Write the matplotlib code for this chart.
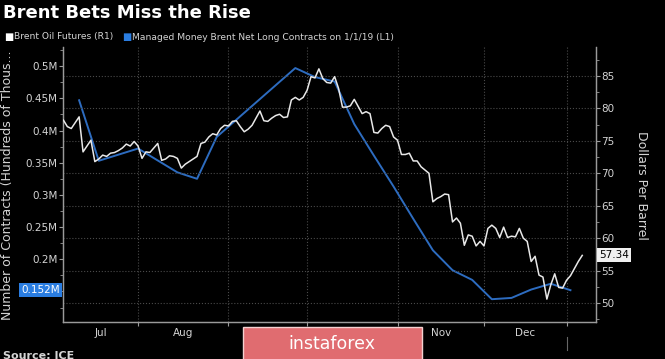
import numpy as np
import pandas as pd
import matplotlib
matplotlib.use('Agg')
import matplotlib.pyplot as plt
import matplotlib.transforms as mtransforms
from matplotlib.patches import Rectangle
from matplotlib.ticker import FuncFormatter, MultipleLocator

# Brent Oil Futures (R1), one value per business day starting 2018-07-05, USD/bbl
brent_start = '2018-07-05'
brent_px = [78.2, 77.2, 76.9, 77.8, 78.7, 73.3, 74.2, 75.1, 71.8, 72.2,
            72.8, 72.6, 73.1, 73.2, 73.5, 73.9, 74.5, 74.2, 74.9, 74.2,
            72.3, 73.3, 73.2, 73.9, 74.6, 72.0, 72.2, 72.7, 72.6, 72.3,
            70.8, 71.4, 71.8, 72.2, 72.6, 74.6, 74.8, 75.6, 76.1, 75.9,
            76.9, 77.4, 77.3, 78.0, 78.1, 77.2, 76.4, 76.8, 77.4, 78.5,
            79.6, 78.1, 78.0, 78.5, 78.9, 79.1, 78.6, 78.7, 81.3, 81.7,
            81.3, 81.7, 82.8, 84.9, 84.7, 86.1, 84.6, 84.0, 83.9, 84.9,
            83.1, 80.2, 80.2, 80.4, 81.4, 80.3, 79.2, 79.5, 79.2, 76.3,
            76.2, 76.9, 77.4, 77.2, 75.6, 75.1, 72.9, 72.9, 73.1, 71.9,
            71.9, 71.0, 70.5, 70.0, 65.6, 66.1, 66.4, 66.8, 66.7, 62.5,
            63.1, 62.3, 58.9, 60.5, 60.3, 58.8, 59.5, 58.8, 61.5, 62.0,
            61.5, 60.1, 61.7, 60.1, 60.3, 60.2, 61.5, 60.0, 59.5, 56.4,
            57.2, 54.3, 54.0, 50.6, 52.8, 54.5, 52.4, 52.3, 53.5, 54.2,
            55.3, 56.4, 57.34]

# Managed Money Brent Net Long Contracts (L1), millions of contracts
mm_dates = ['2018-07-11', '2018-07-18', '2018-08-01', '2018-08-15', '2018-08-22',
            '2018-08-29', '2018-09-26', '2018-10-03', '2018-10-10', '2018-10-17',
            '2018-10-24', '2018-10-31', '2018-11-07', '2018-11-14', '2018-11-21',
            '2018-11-28', '2018-12-05', '2018-12-12', '2018-12-19', '2018-12-26',
            '2019-01-02']
mm_net_long = [0.447, 0.353, 0.372, 0.335, 0.325,
               0.390, 0.497, 0.483, 0.476, 0.410,
               0.361, 0.313, 0.263, 0.214, 0.183,
               0.168, 0.138, 0.140, 0.153, 0.162,
               0.152]

month_names = ['Jul', 'Aug', 'Sep', 'Oct', 'Nov', 'Dec']
left_ticks = [0.2, 0.25, 0.3, 0.35, 0.4, 0.45, 0.5]
right_ticks = [50, 55, 60, 65, 70, 75, 80, 85]

# business-day axis
days = pd.bdate_range(brent_start, '2019-01-11')
pos = np.arange(len(days))
brent_x = pos[:len(brent_px)]
mm_x = days.get_indexer(pd.to_datetime(mm_dates))
month_starts = pd.date_range('2018-08-01', '2019-01-01', freq='MS')
month_edges = [int(days.searchsorted(m)) for m in month_starts]
bounds = [0] + month_edges
month_mid = [(bounds[i] + bounds[i + 1]) / 2 for i in range(len(month_names))]

W, H = 665, 359
fig = plt.figure(figsize=(W / 100, H / 100), dpi=100, facecolor='black')
ax = fig.add_axes([63 / W, 37 / H, 533 / W, 275 / H])
ax2 = ax.twinx()

grey = '#9a9a9a'
txt = '#d4d4d4'
blue = '#2d6cc0'

ax.set_facecolor('black')
ax.plot(mm_x, mm_net_long, color=blue, lw=1.4, zorder=3)
ax2.plot(brent_x, brent_px, color='#e8e8e8', lw=1.1, zorder=4)

ax.set_xlim(-0.1, 135.5)
ax.set_ylim(0.1026, 0.5297)
ax2.set_ylim(47.07, 89.47)

# x axis: gridlines at month starts, labels in the middle of months
ax.set_xticks(month_edges)
ax.set_xticklabels([])
ax.set_xticks(month_mid, minor=True)
ax.set_xticklabels(month_names, minor=True)
ax.tick_params(axis='x', which='major', length=3, color=grey, direction='out')
ax.tick_params(axis='x', which='minor', length=0, labelsize=7.5, labelcolor=txt, pad=4)
ax.grid(axis='x', which='major', ls=':', color='#4a4a4a', lw=0.8)

# year separator under the axis
trans = mtransforms.blended_transform_factory(ax.transData, ax.transAxes)
ax.plot([month_edges[-1]] * 2, [-0.055, -0.1], transform=trans, color='#666666',
        lw=0.8, clip_on=False)

# left axis
ax.set_yticks(left_ticks)
ax.yaxis.set_major_formatter(FuncFormatter(lambda v, p: f'{v:g}M'))
ax.yaxis.set_minor_locator(MultipleLocator(0.025))
ax.tick_params(axis='y', which='major', length=3, color=grey, labelsize=7.5, labelcolor=txt, pad=1)
ax.tick_params(axis='y', which='minor', length=2, color=grey)

# right axis
ax2.set_yticks(right_ticks)
ax2.yaxis.set_minor_locator(MultipleLocator(2.5))
ax2.tick_params(axis='y', which='major', length=3, color=grey, labelsize=7.5, labelcolor=txt, pad=1)
ax2.tick_params(axis='y', which='minor', length=2, color=grey)
ax2.grid(axis='y', which='major', ls=':', color='#4a4a4a', lw=0.8)
ax2.set_zorder(ax.get_zorder() + 1)
ax2.patch.set_visible(False)

for a in (ax, ax2):
    a.spines['top'].set_visible(False)
    for s in ('left', 'right', 'bottom'):
        a.spines[s].set_color(grey)
        a.spines[s].set_linewidth(0.9)

# last value tags
ax.text(-0.006, mm_net_long[-1], f'{mm_net_long[-1]:.3f}M',
        transform=mtransforms.blended_transform_factory(ax.transAxes, ax.transData),
        ha='right', va='center', fontsize=7.5, color='white',
        bbox=dict(boxstyle='square,pad=0.2', fc='#2a7de1', ec='none'))
ax2.text(1.006, brent_px[-1], f'{brent_px[-1]:.2f}',
         transform=mtransforms.blended_transform_factory(ax2.transAxes, ax2.transData),
         ha='left', va='center', fontsize=7.5, color='black',
         bbox=dict(boxstyle='square,pad=0.2', fc='#f0f0f0', ec='none'))

# axis titles
fig.text(8 / W, 1 - 185 / H, 'Number of Contracts (Hundreds of Thous...', rotation=90,
         ha='center', va='center', fontsize=9, color=txt)
fig.text(641 / W, 1 - 185 / H, 'Dollars Per Barrel', rotation=-90,
         ha='center', va='center', fontsize=9, color=txt)

# title and legend
fig.text(3 / W, 1 - 13 / H, 'Brent Bets Miss the Rise', ha='left', va='center',
         fontsize=13, fontweight='bold', color='white')
fig.text(4 / W, 1 - 37 / H, '■', ha='left', va='center', fontsize=7, color='white')
fig.text(14 / W, 1 - 37 / H, 'Brent Oil Futures (R1)', ha='left', va='center',
         fontsize=6.6, color=txt)
fig.text(122 / W, 1 - 37 / H, '■', ha='left', va='center', fontsize=7, color='#2a7de1')
fig.text(132 / W, 1 - 37 / H, 'Managed Money Brent Net Long Contracts on 1/1/19 (L1)',
         ha='left', va='center', fontsize=6.6, color=txt)

fig.text(3 / W, 1 - 356 / H, 'Source: ICE', ha='left', va='center', fontsize=8,
         fontweight='bold', color=txt)

# watermark
fig.patches.append(Rectangle((243 / W, -0.01), 179 / W, (359 - 327) / H + 0.01,
                             transform=fig.transFigure, fc='#e06c70', ec='#f2d0d0', lw=1))
fig.text(332 / W, 1 - 344 / H, 'instaforex', ha='center', va='center', fontsize=12.5,
         color='white')

fig.savefig('out.png', dpi=100, facecolor='black')
